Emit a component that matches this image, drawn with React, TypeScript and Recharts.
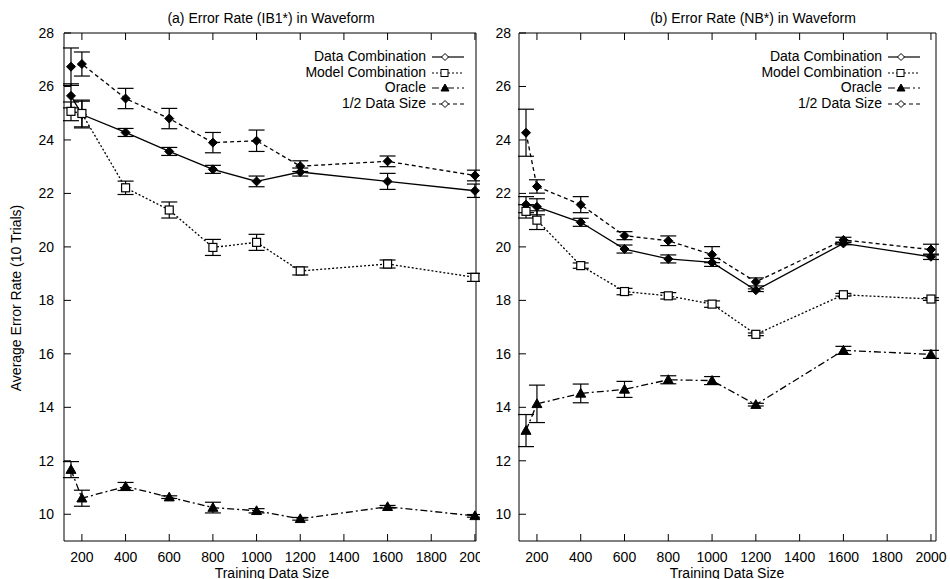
import React from 'react';
import { ErrorBar, Line, LineChart, XAxis, YAxis } from 'recharts';

const trainingSizes = [150, 200, 400, 600, 800, 1000, 1200, 1600, 2000];
const xTicks = [200, 400, 600, 800, 1000, 1200, 1400, 1600, 1800, 2000];
const yTicks = [10, 12, 14, 16, 18, 20, 22, 24, 26, 28];

// (a) IB1*
const ib1DataComb = [25.65, 24.95, 24.28, 23.57, 22.9, 22.45, 22.8, 22.45, 22.1];
const ib1DataCombErr = [0.45, 0.5, 0.15, 0.15, 0.15, 0.2, 0.15, 0.3, 0.25];
const ib1ModelComb = [25.07, 24.99, 22.21, 21.38, 19.98, 20.17, 19.1, 19.36, 18.86];
const ib1ModelCombErr = [0.35, 0.5, 0.25, 0.3, 0.3, 0.3, 0.15, 0.15, 0.15];
const ib1Oracle = [11.67, 10.6, 11.04, 10.64, 10.25, 10.13, 9.83, 10.28, 9.94];
const ib1OracleErr = [0.3, 0.3, 0.15, 0.05, 0.2, 0.08, 0.05, 0.05, 0.05];
const ib1Half = [26.74, 26.84, 25.55, 24.8, 23.9, 23.97, 23.02, 23.2, 22.67];
const ib1HalfErr = [0.7, 0.45, 0.38, 0.38, 0.38, 0.4, 0.2, 0.2, 0.2];

// (b) NB*
const nbDataComb = [21.58, 21.5, 20.92, 19.92, 19.55, 19.42, 18.38, 20.13, 19.63];
const nbDataCombErr = [0.3, 0.3, 0.15, 0.15, 0.15, 0.15, 0.05, 0.05, 0.1];
const nbModelComb = [21.33, 21.0, 19.3, 18.33, 18.17, 17.86, 16.73, 18.21, 18.05];
const nbModelCombErr = [0.25, 0.35, 0.1, 0.12, 0.12, 0.12, 0.05, 0.05, 0.05];
const nbOracle = [13.13, 14.13, 14.52, 14.67, 15.03, 15.0, 14.1, 16.13, 15.98];
const nbOracleErr = [0.6, 0.7, 0.35, 0.3, 0.15, 0.15, 0.05, 0.15, 0.15];
const nbHalf = [24.27, 22.26, 21.58, 20.42, 20.23, 19.71, 18.69, 20.26, 19.9];
const nbHalfErr = [0.88, 0.25, 0.3, 0.15, 0.18, 0.3, 0.15, 0.1, 0.2];

const FONT = '"Liberation Sans", Arial, Helvetica, sans-serif';

const buildRows = (dc, dcE, mc, mcE, or, orE, half, halfE) =>
  trainingSizes.map((size, i) => ({
    size,
    dc: dc[i],
    dcE: dcE[i],
    mc: mc[i],
    mcE: mcE[i],
    or: or[i],
    orE: orE[i],
    half: half[i],
    halfE: halfE[i],
  }));

const ib1Rows = buildRows(
  ib1DataComb, ib1DataCombErr, ib1ModelComb, ib1ModelCombErr,
  ib1Oracle, ib1OracleErr, ib1Half, ib1HalfErr
);
const nbRows = buildRows(
  nbDataComb, nbDataCombErr, nbModelComb, nbModelCombErr,
  nbOracle, nbOracleErr, nbHalf, nbHalfErr
);

const Diamond = ({ cx, cy, r = 4.5, fill = '#000' }) => (
  <path
    d={`M${cx},${cy - r}L${cx + r},${cy}L${cx},${cy + r}L${cx - r},${cy}Z`}
    fill={fill}
    stroke="#000"
    strokeWidth={1}
  />
);
const Square = ({ cx, cy, r = 4 }) => (
  <rect x={cx - r} y={cy - r} width={r * 2} height={r * 2} fill="#fff" stroke="#000" strokeWidth={1.2} />
);
const Triangle = ({ cx, cy, r = 5, fill = '#000' }) => (
  <path
    d={`M${cx},${cy - r}L${cx + r},${cy + r * 0.75}L${cx - r},${cy + r * 0.75}Z`}
    fill={fill}
    stroke="#000"
    strokeWidth={1}
  />
);

const dotFor = (kind) => (props) => {
  const { cx, cy, index } = props;
  if (cx == null || cy == null) return <g key={index} />;
  if (kind === 'square') return <Square key={index} cx={cx} cy={cy} />;
  if (kind === 'triangle') return <Triangle key={index} cx={cx} cy={cy} />;
  return <Diamond key={index} cx={cx} cy={cy} />;
};

const series = [
  { key: 'dc', err: 'dcE', name: 'Data Combination', dash: undefined, marker: 'diamond' },
  { key: 'mc', err: 'mcE', name: 'Model Combination', dash: '2 2', marker: 'square' },
  { key: 'or', err: 'orE', name: 'Oracle', dash: '7 3 2 3', marker: 'triangle' },
  { key: 'half', err: 'halfE', name: '1/2 Data Size', dash: '4 3', marker: 'diamond' },
];

const textStyle = { fontFamily: FONT, fontSize: 14, fill: '#000' };

const BottomTick = ({ x, y, payload }) => (
  <g>
    <line x1={x} x2={x} y1={y - 16} y2={y - 23} stroke="#000" strokeWidth={1} />
    <text x={x} y={y} dy="0.35em" textAnchor="middle" style={textStyle}>
      {payload.value}
    </text>
  </g>
);
const TopTick = ({ x, y }) => (
  <line x1={x} x2={x} y1={y} y2={y + 7} stroke="#000" strokeWidth={1} />
);
const leftTick = (gap) => ({ x, y, payload }) => (
  <g>
    <line x1={x + gap} x2={x + gap + 7} y1={y} y2={y} stroke="#000" strokeWidth={1} />
    <text x={x} y={y} dy="0.35em" textAnchor="end" style={textStyle}>
      {payload.value}
    </text>
  </g>
);
const RightTick = ({ x, y }) => (
  <line x1={x} x2={x - 7} y1={y} y2={y} stroke="#000" strokeWidth={1} />
);

const LegendSample = ({ dash, marker }) => (
  <svg width={36} height={12} style={{ marginLeft: 4, verticalAlign: 'middle' }}>
    <line x1={2} x2={34} y1={6} y2={6} stroke="#000" strokeWidth={1.2} strokeDasharray={dash} />
    {marker === 'square' && <rect x={11} y={2.5} width={7} height={7} fill="#fff" stroke="#000" strokeWidth={1} />}
    {marker === 'triangle' && <Triangle cx={15} cy={6} r={4} fill="#000" />}
    {marker === 'diamond' && <Diamond cx={15} cy={6} r={3.5} fill="#fff" />}
  </svg>
);

const PanelLegend = ({ left, top }) => (
  <div
    style={{
      position: 'absolute',
      left,
      top,
      width: 240,
      fontFamily: FONT,
      fontSize: 14,
      lineHeight: '15.5px',
      textAlign: 'right',
    }}
  >
    {series.map((s) => (
      <div key={s.key} style={{ height: 15.5, whiteSpace: 'nowrap' }}>
        <span>{s.name}</span>
        <LegendSample dash={s.dash} marker={s.marker} />
      </div>
    ))}
  </div>
);

const Panel = ({ rows, left, width, yAxisWidth, marginRight, xMax, tickGap }) => (
  <div style={{ position: 'absolute', left, top: 0, width, height: 579 }}>
    <LineChart
      width={width}
      height={579}
      data={rows}
      margin={{ top: 32, right: marginRight, bottom: 8, left: 0 }}
    >
      <XAxis
        dataKey="size"
        type="number"
        domain={[118, xMax]}
        ticks={xTicks}
        interval={0}
        height={30}
        tickSize={0}
        tickMargin={16}
        tickLine={false}
        axisLine={{ stroke: '#000' }}
        tick={BottomTick}
      />
      <XAxis
        xAxisId="t"
        dataKey="size"
        type="number"
        orientation="top"
        domain={[118, xMax]}
        ticks={xTicks}
        interval={0}
        height={1}
        tickSize={0}
        tickMargin={0}
        tickLine={false}
        axisLine={{ stroke: '#000' }}
        tick={TopTick}
      />
      <YAxis
        type="number"
        domain={[9, 28]}
        ticks={yTicks}
        interval={0}
        width={yAxisWidth}
        tickSize={0}
        tickMargin={tickGap}
        tickLine={false}
        axisLine={{ stroke: '#000' }}
        tick={leftTick(tickGap)}
      />
      <YAxis
        yAxisId="r"
        type="number"
        orientation="right"
        domain={[9, 28]}
        ticks={yTicks}
        interval={0}
        width={1}
        tickSize={0}
        tickMargin={0}
        tickLine={false}
        axisLine={{ stroke: '#000' }}
        tick={RightTick}
      />
      {series.map((s) => (
        <Line
          key={s.key}
          dataKey={s.key}
          name={s.name}
          stroke="#000"
          strokeWidth={1.3}
          strokeDasharray={s.dash}
          dot={dotFor(s.marker)}
          activeDot={false}
          isAnimationActive={false}
        >
          <ErrorBar dataKey={s.err} width={8} stroke="#000" strokeWidth={1.2} direction="y" />
        </Line>
      ))}
    </LineChart>
  </div>
);

export default function App() {
  return (
    <div
      style={{
        position: 'absolute',
        left: 0,
        top: 0,
        width: 950,
        height: 579,
        background: '#fff',
        overflow: 'hidden',
      }}
    >
      <Panel rows={ib1Rows} left={0} width={480} yAxisWidth={64} marginRight={3} xMax={2005} tickGap={10} />
      <Panel rows={nbRows} left={480} width={470} yAxisWidth={39} marginRight={13} xMax={2023} tickGap={8} />
      <PanelLegend left={226} top={49} />
      <PanelLegend left={682} top={49} />
      <svg
        width={950}
        height={579}
        style={{ position: 'absolute', left: 0, top: 0, pointerEvents: 'none' }}
      >
        <text x={271} y={18} dy="0.35em" textAnchor="middle" style={textStyle}>
          (a) Error Rate (IB1*) in Waveform
        </text>
        <text x={753} y={18} dy="0.35em" textAnchor="middle" style={textStyle}>
          (b) Error Rate (NB*) in Waveform
        </text>
        <text x={272} y={573} dy="0.35em" textAnchor="middle" style={textStyle}>
          Training Data Size
        </text>
        <text x={727} y={573} dy="0.35em" textAnchor="middle" style={textStyle}>
          Training Data Size
        </text>
        <text
          x={16}
          y={298}
          dy="0.35em"
          textAnchor="middle"
          transform="rotate(-90 16 298)"
          style={textStyle}
        >
          Average Error Rate (10 Trials)
        </text>
      </svg>
    </div>
  );
}
